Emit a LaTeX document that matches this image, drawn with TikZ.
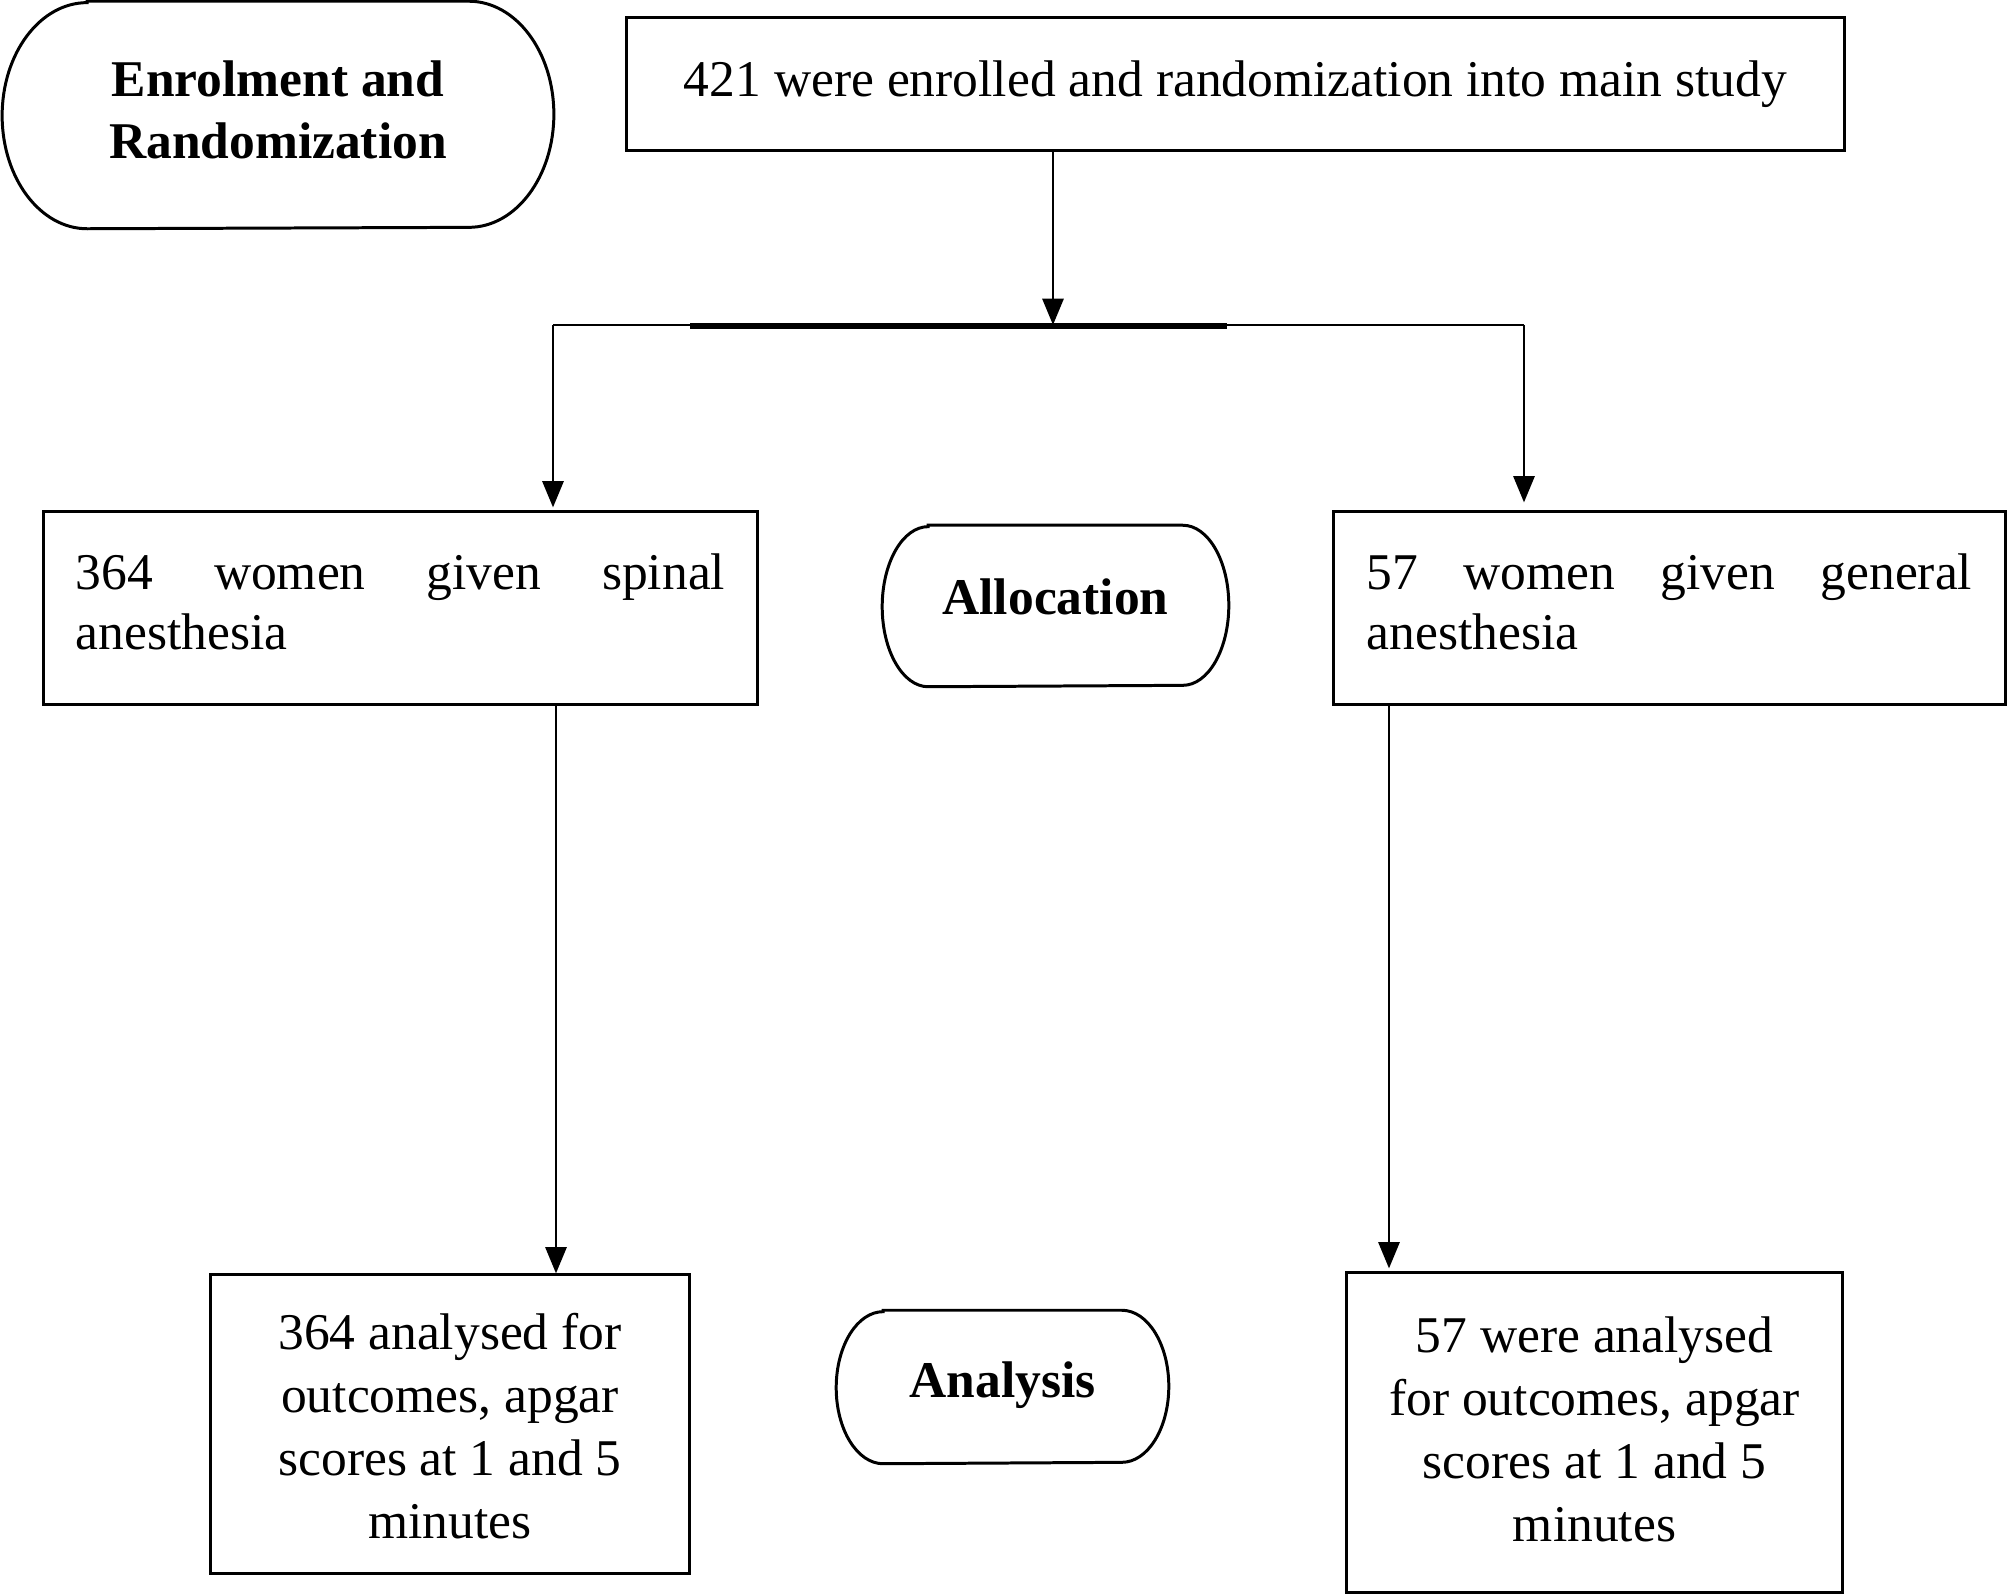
\documentclass[tikz,border=0pt]{standalone}
\usepackage{fontspec}
\setmainfont{Liberation Serif}
\usetikzlibrary{arrows.meta}
\newcommand\diagfont{\fontsize{14.65pt}{17.1pt}\selectfont}
\newcommand\diagfontwide{\fontsize{14.65pt}{17.85pt}\selectfont}
\newcommand\diagbold{\fontsize{14.65pt}{17.5pt}\selectfont\bfseries}
\newcommand\lift[2]{\raisebox{#1}[\height][\depth]{#2}}
\newcommand\stadiumpath[3]{%
  \draw[bord] ([xshift=#2]#1.north west) -- ([xshift=-#2]#1.north east)
    arc[start angle=90,end angle=-90,x radius=#2,y radius=#3]
    -- ([xshift=#2]#1.south west)
    arc[start angle=270,end angle=90,x radius=#2,y radius=#3] -- cycle;}
\begin{document}
\begin{tikzpicture}[x=0.01cm,y=-0.01cm,
  bord/.style={draw=black, line width=0.85pt},
  box/.style={bord, rectangle, inner sep=0pt, font=\diagfont},
  widebox/.style={box, font=\diagfontwide},
  stad/.style={inner sep=0pt, font=\diagbold},
  conn/.style={line width=0.8pt},
  arr/.style={conn, -{Triangle[length=7.5pt,width=6pt]}}]
\useasboundingbox (0,0) rectangle (2008,1595);

% nodes
\node[stad, minimum width=5.50cm, minimum height=2.26cm] (enr) at (278,115)
  {\lift{0.05cm}{\parbox{5cm}{\centering Enrolment and\\Randomization}}};
\stadiumpath{enr}{0.85cm}{1.13cm}

\node[box, minimum width=12.17cm, minimum height=1.32cm] (top) at (1235.5,84)
  {421 were enrolled and randomization into main study};

\node[box, minimum width=7.13cm, minimum height=1.92cm] (lbox) at (400.5,608)
  {\lift{0.065cm}{\parbox{6.49cm}{364\hfill women\hfill given\hfill spinal\\anesthesia}}};

\node[stad, minimum width=3.45cm, minimum height=1.60cm] (alloc) at (1055.5,606)
  {\lift{0.09cm}{Allocation}};
\stadiumpath{alloc}{0.46cm}{0.80cm}

\node[box, minimum width=6.71cm, minimum height=1.92cm] (rbox) at (1669.5,608)
  {\lift{0.065cm}{\parbox{6.05cm}{57\hfill women\hfill given\hfill general\\anesthesia}}};

\node[widebox, minimum width=4.78cm, minimum height=2.98cm] (lbot) at (450,1424)
  {\lift{-0.02cm}{\parbox{4.4cm}{\centering 364 analysed for\\outcomes, apgar\\scores at 1 and 5\\minutes}}};

\node[stad, minimum width=3.31cm, minimum height=1.52cm] (anal) at (1002.5,1387)
  {\lift{0.02cm}{Analysis}};
\stadiumpath{anal}{0.47cm}{0.76cm}

\node[widebox, minimum width=4.95cm, minimum height=3.19cm] (rbot) at (1594.5,1432.5)
  {\lift{0.03cm}{\parbox{4.6cm}{\centering 57 were analysed\\for outcomes, apgar\\scores at 1 and 5\\minutes}}};

% connectors
\coordinate (j) at (1053,325);
\coordinate (jl) at (553,325);
\coordinate (jr) at (1524,325);
\coordinate (tb1) at (690,326);
\coordinate (tb2) at (1227,326);
\coordinate (xl) at (556,0);
\coordinate (xr) at (1389,0);

\draw[arr] (top.south -| j) -- (j);
\draw[conn] (jl) -- (jr);
\draw[line width=1.8pt] (tb1) -- (tb2);
\draw[arr, shorten >=0.03cm] (jl) -- (jl |- lbox.north);
\draw[arr, shorten >=0.08cm] (jr) -- (jr |- rbox.north);
\draw[arr] (lbox.south -| xl) -- (lbot.north -| xl);
\draw[arr, shorten >=0.03cm] (rbox.south -| xr) -- (rbot.north -| xr);
\end{tikzpicture}
\end{document}
